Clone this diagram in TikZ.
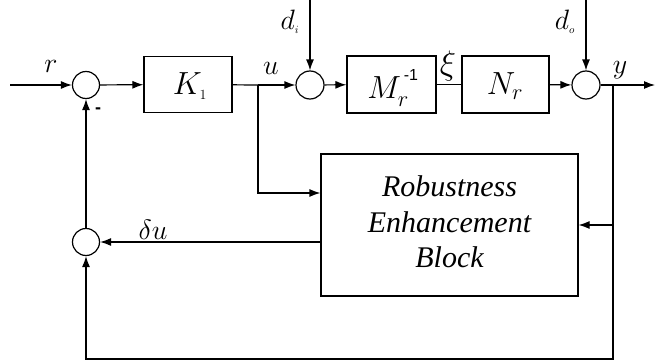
\RequirePackage{fix-cm}
\documentclass[tikz,border=0pt]{standalone}
\usepackage{fontspec}
\newfontfamily\blockfont{Liberation Serif}[ItalicFont={Liberation Serif Italic}]
\newfontfamily\supfont{Liberation Sans}
\usetikzlibrary{arrows.meta}
\begin{document}
\begin{tikzpicture}[x=1pt,y=-1pt,
  line width=1.2pt,
  sig/.style={-{Latex[length=11pt,width=8pt]}},
  sumnode/.style={circle,draw,inner sep=0pt,minimum size=27pt},
  blk/.style={rectangle,draw,inner sep=0pt},
  lbl/.style={inner sep=0pt,font=\fontsize{28}{32}\selectfont},
  big/.style={inner sep=0pt,font=\fontsize{32}{36}\selectfont}]
\useasboundingbox (0,0) rectangle (656,364);

% summing junctions
\node[sumnode] (s1) at (86,85) {};
\node[sumnode,minimum size=28pt] (s2) at (310,85) {};
\node[sumnode,minimum size=28pt] (s3) at (586,85) {};
\node[sumnode] (s4) at (86,242) {};

% blocks
\node[blk,minimum width=88pt,minimum height=56pt] (K) at (188,84.5) {};
\node[blk,minimum width=89pt,minimum height=57pt] (M) at (391.5,84.5) {};
\node[blk,minimum width=87pt,minimum height=57pt] (N) at (505.5,84.5) {};
\node[blk,minimum width=257pt,minimum height=142pt] (R) at (449.5,225) {};

% block contents
\node[big] (Kt) at (190,86) {$K_{\mbox{\fontsize{14}{14}\selectfont 1}}$};
\node[big] (Mt) at (393,88) {$M_{r}^{\raisebox{6pt}{\supfont\fontsize{16}{16}\selectfont\,-1}}$};
\node[big] (Nt) at (505,86) {$N_{r}$};
\node[inner sep=0pt,align=center,font=\blockfont\itshape\fontsize{30}{35.5}\selectfont] (Rt) at (449.5,222) {Robustness\\Enhancement\\Block};

% coordinates for free ends and corners
\coordinate (in) at (10,85);
\coordinate (out) at (655,85);
\coordinate (ditop) at (310,0);
\coordinate (dotop) at (586,0);
\coordinate (ub) at (258,85);
\coordinate (ud) at (258,193);
\coordinate (yb) at (613,85);
\coordinate (yd) at (613,359);
\coordinate (bl) at (86,359);

% forward path
\draw[sig] (in) -- (s1);
\draw[sig] (s1) -- (K);
\draw (K) -- (ub);
\draw[sig] (ub) -- (s2);
\draw[sig] (s2) -- (M);
\draw (M) -- (N);
\draw[sig] (N) -- (s3);
\draw[sig] (s3) -- (out);
\draw[sig] (ditop) -- (s2);
\draw[sig] (dotop) -- (s3);

% robustness enhancement loop
\draw[sig] (ub) -- (ud) -- (ud -| R.west);
\draw[sig] (yb) |- (R.east |- 0,225);
\draw[sig] (R.west |- 0,242) -- (s4);
\draw[sig] (yb) -- (yd) -- (bl) -- (s4);
\draw[sig] (s4) -- (s1);

% signal labels
\node[lbl] (lr) at (51,66) {$r$};
\node[lbl] (lu) at (271,68) {$u$};
\node[lbl] (ldi) at (290,22) {$d_{\mbox{\fontsize{11}{11}\selectfont$i$}}$};
\node[lbl] (ldo) at (565,22) {$d_{\mbox{\fontsize{11}{11}\selectfont$o$}}$};
\node[inner sep=0pt,font=\fontsize{34}{36}\selectfont] (lxi) at (448,66) {$\xi$};
\node[lbl] (ly) at (620,70) {$y$};
\node[lbl] (ldu) at (153,230) {$\delta u$};
\node[inner sep=0pt,font=\supfont\bfseries\fontsize{18}{18}\selectfont] (minus) at (98,111) {-};
\end{tikzpicture}
\end{document}
